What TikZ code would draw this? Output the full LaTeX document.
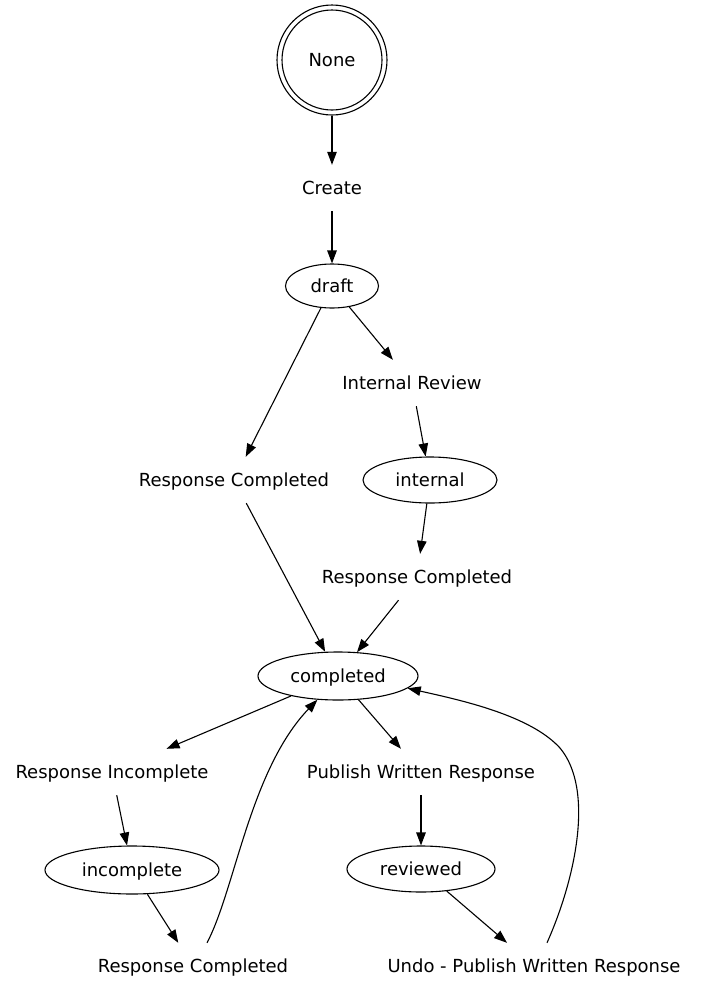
\documentclass[tikz,border=0pt]{standalone}
\usepackage{fontspec}
\setmainfont{DejaVu Sans}
\usetikzlibrary{shapes.geometric,arrows.meta}
\begin{document}
\begin{tikzpicture}[x=1pt,y=-1pt,
  font=\fontsize{18}{20}\selectfont,
  every node/.style={text height=15pt,text depth=2pt},
  lbl/.style={rectangle,minimum height=46pt,inner xsep=6pt},
  st/.style={ellipse,draw,line width=1.1pt,inner sep=0pt},
  startst/.style={circle,draw,line width=1.1pt,minimum size=110pt,inner sep=0pt},
  edge/.style={line width=1.1pt,-{Triangle[length=13pt,width=9.5pt]}},
]
\useasboundingbox (0,0) rectangle (701,997);

\node[startst] (none) at (332,60) {None};
\draw[line width=1.1pt] (none.center) circle[radius=50pt];
\node[lbl] (create) at (332,188) {Create};
\node[st,minimum width=93pt,minimum height=44pt] (draft) at (332,286) {draft};
\node[lbl] (irev) at (412,383) {Internal Review};
\node[lbl] (rc1) at (234,480) {Response Completed};
\node[st,minimum width=134pt,minimum height=46pt] (internal) at (430,480) {internal};
\node[lbl] (rc2) at (417,577) {Response Completed};
\node[st,minimum width=160pt,minimum height=48pt] (completed) at (338,676) {completed};
\node[lbl] (rinc) at (112,772) {Response Incomplete};
\node[lbl] (pub) at (421,772) {Publish Written Response};
\node[st,minimum width=174pt,minimum height=48pt] (incomplete) at (132,870) {incomplete};
\node[st,minimum width=148pt,minimum height=46pt] (reviewed) at (421,869) {reviewed};
\node[lbl] (rc3) at (193,966) {Response Completed};
\node[lbl] (undo) at (534,966) {Undo - Publish Written Response};

\draw[edge] (none) -- (create);
\draw[edge] (create) -- (draft);
\draw[edge] (draft) -- (irev);
\draw[edge] (draft) -- (rc1);
\draw[edge] (irev) -- (internal);
\draw[edge] (internal) -- (rc2);
\draw[edge] (rc1) -- (completed);
\draw[edge] (rc2) -- (completed);
\draw[edge] (completed) -- (rinc);
\draw[edge] (completed) -- (pub);
\draw[edge] (rinc) -- (incomplete);
\draw[edge] (pub) -- (reviewed);
\draw[edge] (incomplete) -- (rc3);
\draw[edge] (reviewed) -- (undo);
\draw[edge] ([xshift=14pt]rc3.north) .. controls (235,890) and (250,770) .. (completed.229);
\draw[edge] ([xshift=13pt]undo.north) .. controls (575,880) and (595,790) .. (560,748)
  .. controls (530,715) and (460,700) .. (completed.350);
\end{tikzpicture}
\end{document}
